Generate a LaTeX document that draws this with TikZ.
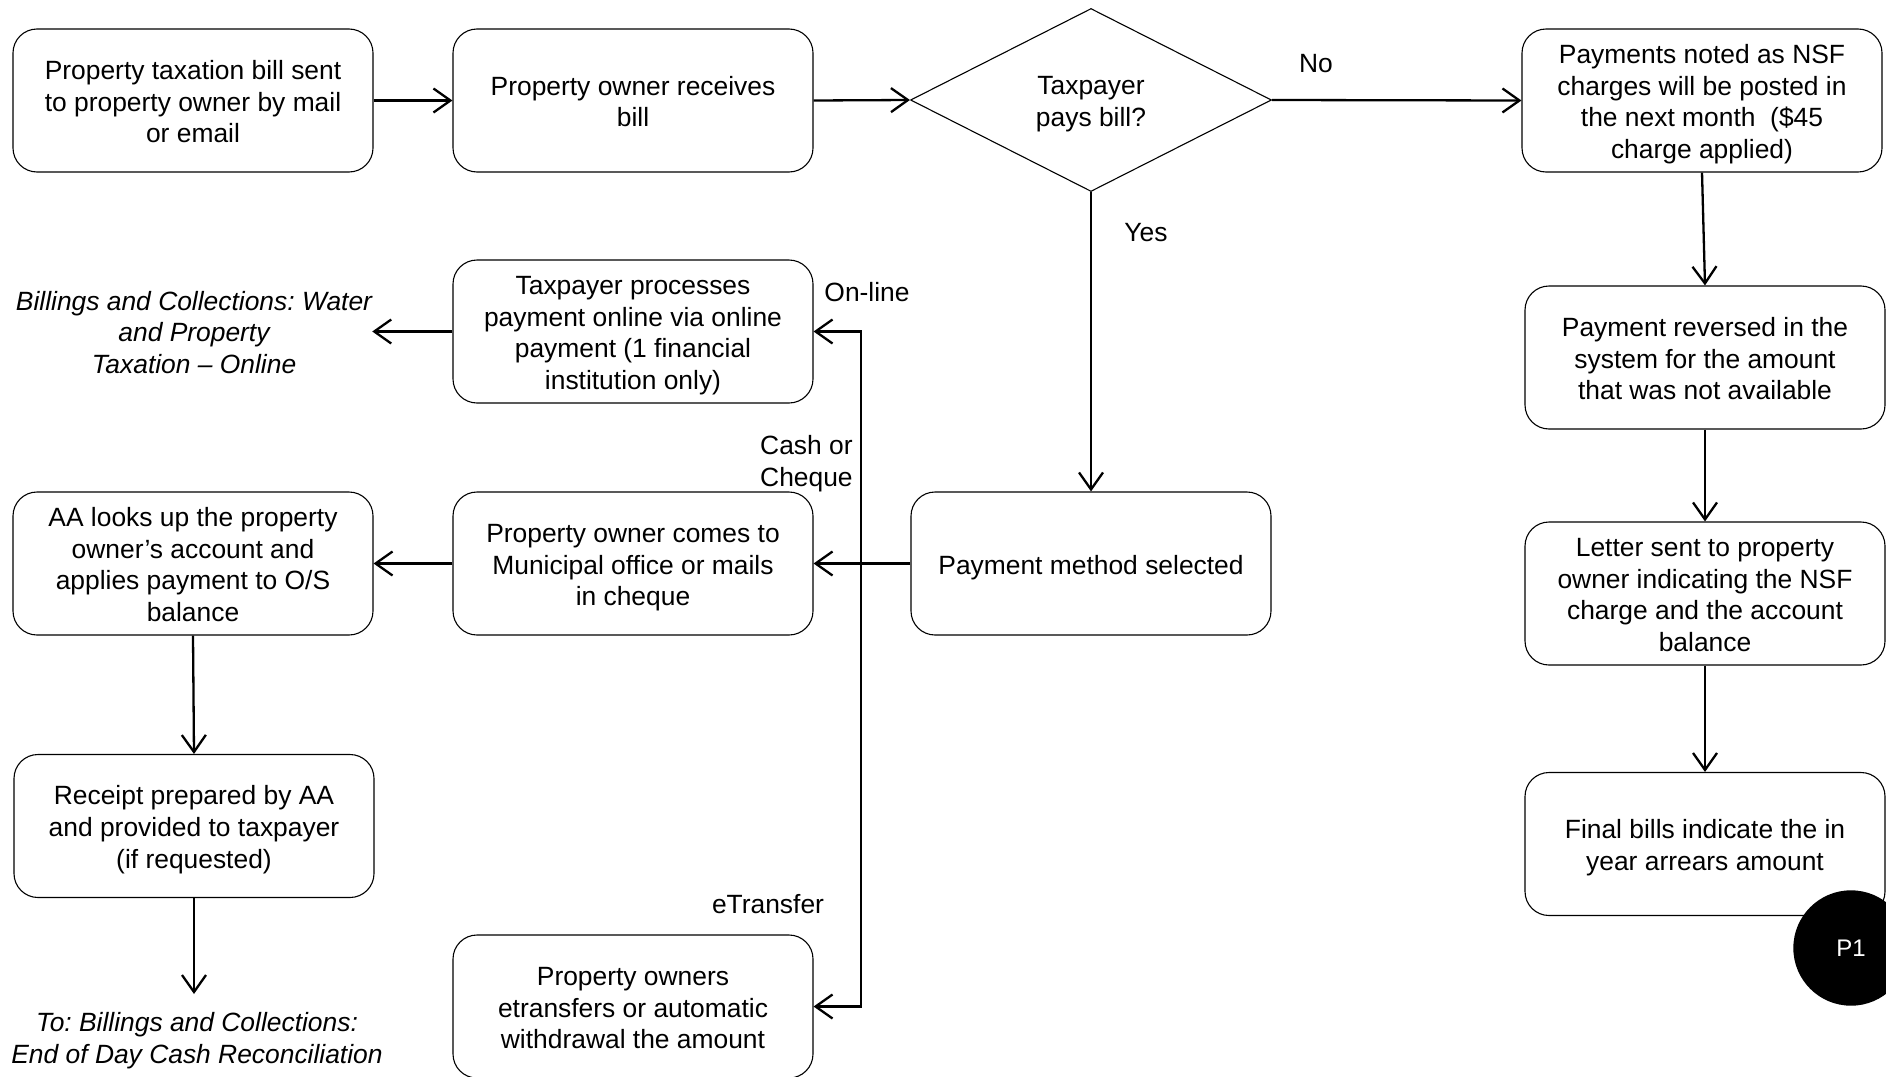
\documentclass[tikz,border=0pt]{standalone}
\usepackage{fontspec}
\setmainfont{Liberation Sans}
\usetikzlibrary{arrows.meta,shapes.geometric}
\frenchspacing
% invisible rules giving every box text the same top height and bottom depth
\newcommand{\bxh}{\rule{0pt}{27pt}}
\newcommand{\bxd}{\rule[-6pt]{0pt}{6pt}}
\begin{document}
\begin{tikzpicture}[x=1pt,y=-1pt,
  every node/.style={font=\fontsize{26.4}{31.9}\selectfont},
  procbox/.style={draw, line width=1.1pt, rounded corners=24pt,
    minimum width=360pt, minimum height=143pt, align=center, inner sep=0pt},
  decision/.style={draw, diamond, line width=1.1pt, minimum width=361pt,
    minimum height=183pt, aspect=1.97, align=center, inner sep=0pt},
  flow/.style={line width=2.3pt,
    -{Straight Barb[length=17pt,width=24pt,line width=2.3pt]}},
  lbl/.style={inner sep=0pt, align=center},
  refnote/.style={inner sep=0pt, align=center,
    font=\fontsize{26.4}{31.9}\selectfont\itshape},
]
% page frame
\path[use as bounding box, fill=white] (0,0) rectangle (1886,1076);

% top row
\node[procbox] (sent) at (193,100.5)
  {\bxh Property taxation bill sent\\to property owner by mail\\or email\bxd};
\node[procbox] (recv) at (633,100.5) {\bxh Property owner receives\\bill\bxd};
\node[decision] (pays) at (1091,100) {\bxh Taxpayer\\pays bill?\bxd};
\node[procbox] (nsf) at (1702,100.5)
  {\bxh Payments noted as NSF\\charges will be posted in\\the next month\ \ (\$45\\charge applied)\bxd};

% NSF column
\node[procbox] (rev) at (1705,357.5)
  {\bxh Payment reversed in the\\system for the amount\\that was not available\bxd};
\node[procbox] (letter) at (1705,593.5)
  {\bxh Letter sent to property\\owner indicating the NSF\\charge and the account\\balance\bxd};
\node[procbox] (final) at (1705,844)
  {\bxh Final bills indicate the in\\year arrears amount\bxd};

% payment branches
\node[procbox] (online) at (633,331.5)
  {\bxh Taxpayer processes\\payment online via online\\payment (1 financial\\institution only)\bxd};
\node[procbox] (office) at (633,563.5)
  {\bxh Property owner comes to\\Municipal office or mails\\in cheque\bxd};
\node[procbox] (method) at (1091,563.5) {\bxh Payment method selected\bxd};
\node[procbox] (lookup) at (193,563.5)
  {\bxh AA looks up the property\\owner’s account and\\applies payment to O/S\\balance\bxd};
\node[procbox] (receipt) at (194,826)
  {\bxh Receipt prepared by AA\\and provided to taxpayer\\(if requested)\bxd};
\node[procbox] (etr) at (633,1006.5)
  {\bxh Property owners\\etransfers or automatic\\withdrawal the amount\bxd};

% references to other processes
\node[refnote] (onlref) at (194,332.5)
  {Billings and Collections: Water\\and Property\\Taxation – Online};
\node[refnote] (cashref) at (197,1041)
  {To: Billings and Collections:\\End of Day Cash Reconciliation};

% branch labels
\node[lbl] (lno) at (1316,64) {No};
\node[lbl] (lyes) at (1146,232.5) {Yes};
\node[lbl] (lonl) at (867,292) {On-line};
\node[lbl, align=left, anchor=north west] (lcash) at (760,435) {Cash or\\Cheque};
\node[lbl] (letr) at (768,904) {eTransfer};

% page connector
\node[circle, fill=black, text=white, minimum size=115.4pt, inner sep=0pt,
  font=\fontsize{24}{28}\selectfont] (pone) at (1851,948) {P1};

% connectors
\coordinate (bus) at (861,0);
\coordinate (toend) at (194,994);

\draw[flow] (sent.east) -- (recv.west);
\draw[flow] (recv.east) -- (pays.west);
\draw[flow] (pays.east) -- (nsf.west);
\draw[flow] (pays.south) -- (method.north);
\draw[flow] (nsf.south) -- (rev.north);
\draw[flow] (rev.south) -- (letter.north);
\draw[flow] (letter.south) -- (final.north);

\draw[flow] (method.west) -- (office.east);
\draw[flow] (bus |- method.west) -- (bus |- online.east) -- (online.east);
\draw[flow] (bus |- method.west) -- (bus |- etr.east) -- (etr.east);

\draw[flow] (online.west) -- (online.west -| onlref.east);
\draw[flow] (office.west) -- (lookup.east);
\draw[flow] (lookup.south) -- (receipt.north);
\draw[flow] (receipt.south) -- (receipt.south |- toend);
\end{tikzpicture}
\end{document}
